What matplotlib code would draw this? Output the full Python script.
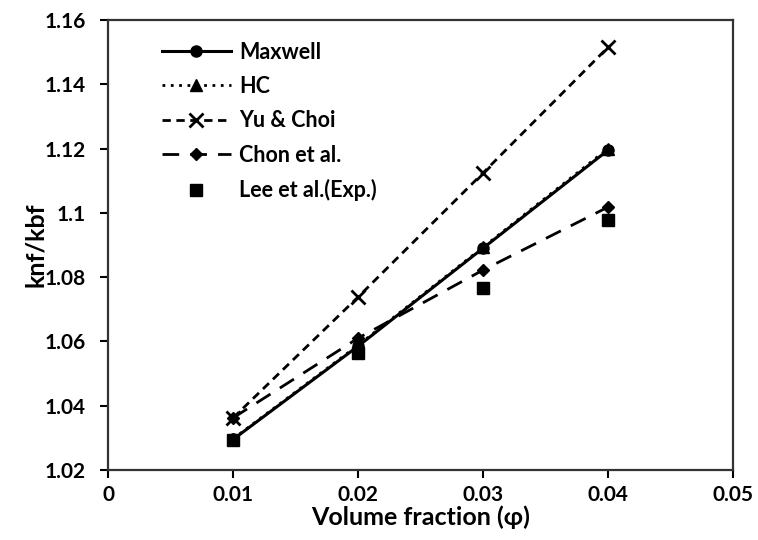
import matplotlib
matplotlib.use("Agg")
import matplotlib.pyplot as plt

plt.rcParams['font.family'] = ['Lato', 'DejaVu Sans']
plt.rcParams['font.weight'] = 'bold'

phi = [0.01, 0.02, 0.03, 0.04]
maxwell = [1.0295, 1.0585, 1.0890, 1.1195]
hc = [1.0297, 1.0588, 1.0893, 1.1200]
yu_choi = [1.0362, 1.0738, 1.1124, 1.1515]
chon = [1.0362, 1.0610, 1.0822, 1.1018]
lee = [1.0293, 1.0565, 1.0766, 1.0978]

xticks = [0, 0.01, 0.02, 0.03, 0.04, 0.05]
xticklabels = ["0", "0.01", "0.02", "0.03", "0.04", "0.05"]
yticks = [1.02, 1.04, 1.06, 1.08, 1.1, 1.12, 1.14, 1.16]
yticklabels = ["1.02", "1.04", "1.06", "1.08", "1.1", "1.12", "1.14", "1.16"]

fig = plt.figure(figsize=(7.58, 5.40), dpi=100)
ax = fig.add_axes([0.1425, 0.1296, 0.8245, 0.8334])

ax.plot(phi, hc, linestyle=(0, (1, 2)), color="black", lw=2, marker="^", ms=9, label="HC", zorder=2)
ax.plot(phi, maxwell, "-", color="black", lw=2.2, marker="o", ms=8, label="Maxwell", zorder=3)
ax.plot(phi, yu_choi, linestyle=(0, (3, 2)), color="black", lw=2, marker="x", ms=10, mew=2, label="Yu & Choi", zorder=3)
ax.plot(phi, chon, linestyle=(0, (6, 4)), color="black", lw=2, marker="D", ms=6, label="Chon et al.", zorder=3)
ax.plot(phi, lee, linestyle="none", color="black", marker="s", ms=9, label="Lee et al.(Exp.)", zorder=4)

ax.set_xlim(0, 0.05)
ax.set_ylim(1.02, 1.16)
ax.set_xticks(xticks)
ax.set_xticklabels(xticklabels)
ax.set_yticks(yticks)
ax.set_yticklabels(yticklabels)
ax.tick_params(axis="both", direction="out", length=6, width=1.5, labelsize=15, colors="black")
ax.tick_params(axis="y", pad=10)
ax.tick_params(axis="x", pad=5)
for s in ax.spines.values():
    s.set_linewidth(1.6)
    s.set_color("#333333")

ax.set_xlabel("Volume fraction (\u03c6)", fontsize=18, fontweight="bold", labelpad=0)
ax.set_ylabel("knf/kbf", fontsize=18, fontweight="bold", labelpad=-2)

h, l = ax.get_legend_handles_labels()
order = [1, 0, 2, 3, 4]
ax.legend([h[i] for i in order], [l[i] for i in order], loc="upper left",
          bbox_to_anchor=(0.055, 0.995), frameon=False, fontsize=15.5, handlelength=3.2,
          labelspacing=0.62, handletextpad=0.4)

fig.savefig("out.png", dpi=100)
